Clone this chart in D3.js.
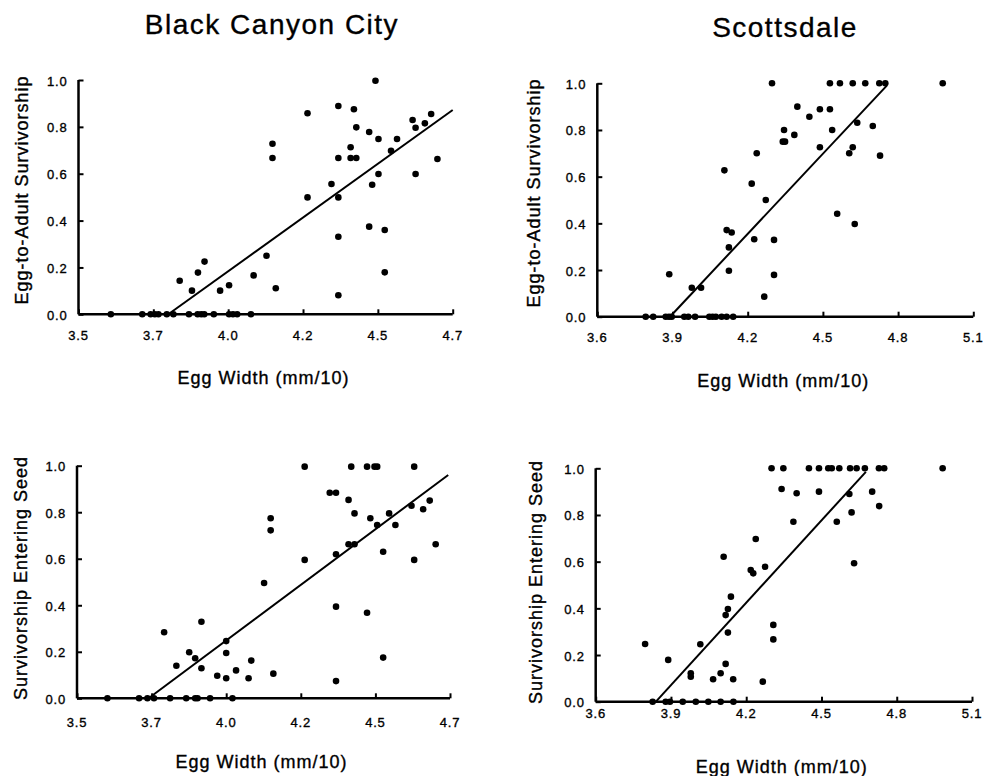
<!DOCTYPE html>
<html>
<head>
<meta charset="utf-8">
<script src="https://cdn.jsdelivr.net/npm/d3@7"></script>
<style>
  html, body { margin: 0; padding: 0; background: #fff; }
  svg { display: block; }
  text { font-family: "Liberation Sans", Arial, Helvetica, sans-serif; fill: #000; stroke: #000; stroke-width: 0.35px; }
</style>
</head>
<body>
<svg id="chart" width="991" height="776"></svg>
<script>
// ---------------- DATA ----------------
const siteTitles = ["Black Canyon City", "Scottsdale"];
const xAxisTitle = "Egg Width (mm/10)";
const yAxisTitles = ["Egg-to-Adult Survivorship", "Survivorship Entering Seed"];

const yTickValues = [0, 0.2, 0.4, 0.6, 0.8, 1.0];
const yTickLabels = ["0.0", "0.2", "0.4", "0.6", "0.8", "1.0"];

const bccXDomain = [3.45, 4.70];
const bccXTickValues = [3.45, 3.70, 3.95, 4.20, 4.45, 4.70];
const bccXTickLabels = ["3.5", "3.7", "4.0", "4.2", "4.5", "4.7"];

const scoXDomain = [3.6, 5.1];
const scoXTickValues = [3.6, 3.9, 4.2, 4.5, 4.8, 5.1];
const scoXTickLabels = ["3.6", "3.9", "4.2", "4.5", "4.8", "5.1"];

// Black Canyon City - egg-to-adult survivorship: eggs with zero survivorship (egg widths)
const bccAdultZeros = [3.558, 3.663, 3.691, 3.705, 3.717, 3.745, 3.767, 3.819, 3.848, 3.860,
  3.870, 3.902, 3.953, 3.966, 3.980, 4.026];
// [egg width, survivorship]
const bccAdultPoints = [
  [3.788,0.143],[3.829,0.101],[3.849,0.178],[3.871,0.225],[3.923,0.101],[3.953,0.124],
  [4.035,0.166],[4.078,0.250],[4.109,0.111],[4.098,0.728],[4.098,0.667],[4.215,0.858],
  [4.215,0.499],[4.318,0.889],[4.318,0.667],[4.318,0.499],[4.318,0.331],[4.318,0.081],
  [4.295,0.556],[4.359,0.713],[4.359,0.667],[4.378,0.667],[4.370,0.875],[4.378,0.798],
  [4.421,0.778],[4.442,0.997],[4.452,0.748],[4.431,0.553],[4.452,0.599],[4.421,0.374],
  [4.473,0.360],[4.473,0.179],[4.494,0.698],[4.514,0.748],[4.566,0.829],[4.576,0.796],
  [4.607,0.815],[4.628,0.855],[4.576,0.599],[4.649,0.663]
];
const bccAdultFit = [[3.75, 0], [4.70, 0.872]];

// Scottsdale - egg-to-adult survivorship
const scoAdultZeros = [3.793, 3.823, 3.873, 3.886, 3.897, 3.947, 3.963, 3.990, 4.047, 4.060,
  4.073, 4.096, 4.116, 4.142];
const scoAdultPoints = [
  [3.887,0.182],[3.977,0.124],[4.014,0.124],[4.107,0.627],[4.116,0.371],[4.136,0.361],
  [4.125,0.297],[4.125,0.197],[4.216,0.570],[4.236,0.700],[4.226,0.332],[4.266,0.086],
  [4.272,0.500],[4.305,0.329],[4.305,0.179],[4.297,1.0],[4.345,0.800],[4.340,0.750],
  [4.349,0.750],[4.386,0.779],[4.398,0.900],[4.446,0.857],[4.488,0.889],[4.528,0.889],
  [4.488,0.726],[4.537,0.800],[4.557,0.441],[4.528,1.0],[4.568,1.0],[4.619,1.0],
  [4.669,1.0],[4.725,1.0],[4.749,1.0],[4.978,1.0],[4.637,0.831],[4.619,0.726],
  [4.605,0.700],[4.627,0.397],[4.699,0.817],[4.728,0.690]
];
const scoAdultFit = [[3.89, 0], [4.755, 0.99]];

// Black Canyon City - survivorship entering seed
const bccSeedZeros = [3.552, 3.658, 3.686, 3.708, 3.762, 3.816, 3.846, 3.854, 3.896, 3.971];
const bccSeedPoints = [
  [3.742,0.284],[3.783,0.140],[3.826,0.198],[3.846,0.172],[3.867,0.329],[3.867,0.129],
  [3.920,0.097],[3.950,0.246],[3.950,0.195],[3.950,0.086],[3.983,0.120],[4.025,0.086],
  [4.034,0.162],[4.077,0.496],[4.099,0.774],[4.099,0.722],[4.108,0.106],[4.213,0.996],
  [4.213,0.595],[4.297,0.884],[4.318,0.884],[4.318,0.619],[4.318,0.394],[4.318,0.074],
  [4.360,0.853],[4.369,0.996],[4.360,0.662],[4.380,0.662],[4.380,0.795],[4.422,0.996],
  [4.447,0.996],[4.456,0.996],[4.433,0.774],[4.422,0.368],[4.456,0.745],[4.476,0.630],
  [4.476,0.175],[4.496,0.795],[4.517,0.745],[4.571,0.828],[4.580,0.996],[4.580,0.595],
  [4.610,0.813],[4.632,0.850],[4.652,0.662]
];
const bccSeedFit = [[3.69, 0], [4.694, 0.96]];

// Scottsdale - survivorship entering seed
const scoSeedZeros = [3.827, 3.879, 3.896, 3.947, 3.999, 4.049, 4.098, 4.149];
const scoSeedPoints = [
  [3.797,0.247],[3.889,0.179],[3.979,0.122],[3.979,0.107],[4.017,0.246],[4.068,0.096],
  [4.098,0.122],[4.110,0.621],[4.118,0.162],[4.118,0.371],[4.127,0.397],[4.127,0.296],
  [4.139,0.450],[4.148,0.096],[4.218,0.564],[4.228,0.550],[4.238,0.697],[4.266,0.086],
  [4.275,0.578],[4.308,0.329],[4.308,0.267],[4.301,1.0],[4.348,1.0],[4.341,0.911],
  [4.401,0.893],[4.388,0.771],[4.450,1.0],[4.490,1.0],[4.527,1.0],[4.541,1.0],
  [4.571,1.0],[4.490,0.900],[4.561,0.771],[4.614,1.0],[4.640,1.0],[4.673,1.0],
  [4.611,0.890],[4.620,0.811],[4.630,0.593],[4.702,0.900],[4.730,0.838],[4.729,1.0],
  [4.750,1.0],[4.983,1.0]
];
const scoSeedFit = [[3.84, 0], [4.677, 0.985]];

// ---------------- LAYOUT ----------------
const panels = [
  { zeros: bccAdultZeros, pts: bccAdultPoints, fit: bccAdultFit, xd: bccXDomain, xt: bccXTickValues, xl: bccXTickLabels,
    yTitle: yAxisTitles[0], L: 78.5, R: 452.7, B: 314.3, T: 80, tickBase: 340, xTitleBase: 384, yTitleX: 28, yTitleCy: 190 },
  { zeros: scoAdultZeros, pts: scoAdultPoints, fit: scoAdultFit, xd: scoXDomain, xt: scoXTickValues, xl: scoXTickLabels,
    yTitle: yAxisTitles[0], L: 597.3, R: 973.3, B: 316.7, T: 83.3, tickBase: 342, xTitleBase: 387, yTitleX: 540, yTitleCy: 193 },
  { zeros: bccSeedZeros, pts: bccSeedPoints, fit: bccSeedFit, xd: bccXDomain, xt: bccXTickValues, xl: bccXTickLabels,
    yTitle: yAxisTitles[1], L: 77, R: 450, B: 698.3, T: 465.7, tickBase: 727, xTitleBase: 768, yTitleX: 27, yTitleCy: 578 },
  { zeros: scoSeedZeros, pts: scoSeedPoints, fit: scoSeedFit, xd: scoXDomain, xt: scoXTickValues, xl: scoXTickLabels,
    yTitle: yAxisTitles[1], L: 595.7, R: 972, B: 701.7, T: 468.3, tickBase: 718, xTitleBase: 773, yTitleX: 542, yTitleCy: 582 }
];

const svg = d3.select("#chart");

// Site titles
svg.append("text").attr("x", 272).attr("y", 34).attr("text-anchor", "middle")
  .style("font-size", "28px").style("letter-spacing", "1.5px").text(siteTitles[0]);
svg.append("text").attr("x", 785).attr("y", 36.5).attr("text-anchor", "middle")
  .style("font-size", "28px").style("letter-spacing", "1.5px").text(siteTitles[1]);

panels.forEach(p => {
  const x = d3.scaleLinear().domain(p.xd).range([p.L, p.R]);
  const y = d3.scaleLinear().domain([0, 1]).range([p.B, p.T]);
  const g = svg.append("g");

  // x axis (ticks pointing up, inside)
  const xAxis = d3.axisBottom(x).tickValues(p.xt).tickSize(-5).tickFormat("");
  const gx = g.append("g").attr("transform", `translate(0,${p.B})`).call(xAxis);
  gx.select(".domain").attr("d", `M${p.L},0H${p.R}`).attr("stroke", "#000").attr("stroke-width", 2.5);
  gx.selectAll(".tick line").attr("stroke", "#000").attr("stroke-width", 2);

  // y axis (ticks pointing right, inside)
  const yAxis = d3.axisLeft(y).tickValues(yTickValues).tickSize(-5).tickFormat("");
  const gy = g.append("g").attr("transform", `translate(${p.L},0)`).call(yAxis);
  gy.select(".domain").attr("d", `M0,${p.B}V${p.T}`).attr("stroke", "#000").attr("stroke-width", 2.5);
  gy.selectAll(".tick line").attr("stroke", "#000").attr("stroke-width", 2);

  // tick labels
  g.selectAll(".xl").data(p.xt).enter().append("text")
    .attr("x", d => x(d)).attr("y", p.tickBase).attr("text-anchor", "middle")
    .style("font-size", "13px").style("letter-spacing", "0.8px")
    .text((d, i) => p.xl[i]);
  g.selectAll(".yl").data(yTickValues).enter().append("text")
    .attr("x", p.L - 11).attr("y", d => y(d) + 5.5).attr("text-anchor", "end")
    .style("font-size", "13px").style("letter-spacing", "0.8px")
    .text((d, i) => yTickLabels[i]);

  // axis titles
  g.append("text").attr("x", (p.L + p.R) / 2 - 2).attr("y", p.xTitleBase).attr("text-anchor", "middle")
    .style("font-size", "18px").style("letter-spacing", "1px").text(xAxisTitle);
  g.append("text").attr("transform", `translate(${p.yTitleX},${p.yTitleCy}) rotate(-90)`)
    .attr("text-anchor", "middle")
    .style("font-size", "18px").style("letter-spacing", "1px").text(p.yTitle);

  // regression line
  g.append("path").datum(p.fit)
    .attr("d", d3.line().x(d => x(d[0])).y(d => y(d[1])))
    .attr("fill", "none").attr("stroke", "#000").attr("stroke-width", 2);

  // points
  const all = p.zeros.map(v => [v, 0]).concat(p.pts);
  g.selectAll(".pt").data(all).enter().append("circle")
    .attr("cx", d => x(d[0])).attr("cy", d => y(d[1])).attr("r", 3.3).attr("fill", "#000");
});
</script>
</body>
</html>
